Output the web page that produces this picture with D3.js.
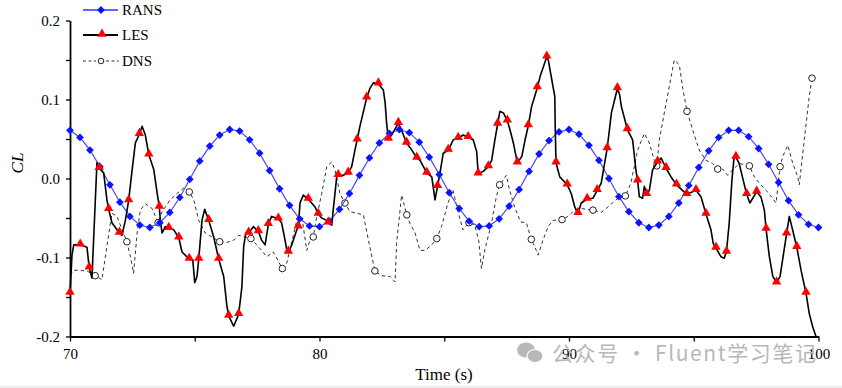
<!DOCTYPE html>
<html>
<head>
<meta charset="utf-8">
<script src="https://cdn.jsdelivr.net/npm/d3@7"></script>
<style>
  html, body { margin: 0; padding: 0; background: #fff; }
  svg { display: block; }
</style>
</head>
<body>
<svg id="chart" width="842" height="388"></svg>
<script>
// ---------------- DATA ----------------
const xTicks = [70, 75, 80, 85, 90, 95, 100];
const xTickLabels = ["70", "", "80", "", "90", "", "100"];
const yTicks = [-0.2, -0.15, -0.1, -0.05, 0.0, 0.05, 0.1, 0.15, 0.2];
const yTickLabels = ["-0.2", "", "-0.1", "", "0.0", "", "0.1", "", "0.2"];
const seriesNames = ["RANS", "LES", "DNS"];

const ransTime = [70.0,70.4,70.8,71.2,71.6,72.0,72.4,72.8,73.2,73.6,74.0,74.4,74.8,75.2,75.6,76.0,76.4,76.8,77.2,77.6,
  78.0,78.4,78.8,79.2,79.6,80.0,80.4,80.8,81.2,81.6,82.0,82.4,82.8,83.2,83.6,84.0,84.4,84.8,85.2,85.6,
  86.0,86.4,86.8,87.2,87.6,88.0,88.4,88.8,89.2,89.6,90.0,90.4,90.8,91.2,91.6,92.0,92.4,92.8,93.2,93.6,
  94.0,94.4,94.8,95.2,95.6,96.0,96.4,96.8,97.2,97.6,98.0,98.4,98.8,99.2,99.6,100.0];
const ransCL = [0.061,0.052,0.036,0.015,-0.008,-0.030,-0.048,-0.059,-0.062,-0.056,
  -0.043,-0.024,-0.001,0.022,0.041,0.055,0.062,0.060,0.049,0.032,
  0.010,-0.013,-0.034,-0.051,-0.060,-0.061,-0.054,-0.039,-0.019,0.004,
  0.026,0.045,0.057,0.062,0.058,0.046,0.027,0.005,-0.018,-0.038,
  -0.054,-0.061,-0.060,-0.051,-0.035,-0.014,0.009,0.031,0.048,0.059,
  0.062,0.056,0.042,0.023,0.000,-0.023,-0.042,-0.056,-0.062,-0.059,
  -0.048,-0.031,-0.009,0.014,0.035,0.052,0.061,0.061,0.053,0.038,
  0.018,-0.005,-0.028,-0.046,-0.058,-0.062];

const lesTime = [70.00,70.08,70.15,70.41,70.68,70.77,70.88,71.01,71.08,71.17,71.35,71.48,71.55,71.68,71.98,72.08,72.22,72.35,72.49,72.62,
  72.78,72.89,73.02,73.16,73.36,73.49,73.58,73.62,73.69,73.82,73.96,74.16,74.36,74.49,74.78,74.92,75.00,75.09,75.16,75.29,
  75.40,75.56,75.76,75.96,76.16,76.29,76.36,76.56,76.76,76.89,76.96,77.05,77.16,77.35,77.55,77.68,77.82,77.95,78.08,78.35,
  78.48,78.62,78.69,78.75,78.89,79.09,79.15,79.22,79.35,79.55,79.82,79.95,80.09,80.29,80.35,80.49,80.55,80.69,80.75,80.95,
  81.15,81.29,81.42,81.51,81.62,81.89,82.02,82.16,82.36,82.56,82.63,82.69,82.76,82.89,83.16,83.29,83.49,83.70,83.90,84.03,
  84.30,84.50,84.63,84.73,84.83,84.96,85.16,85.36,85.56,85.76,85.96,86.16,86.30,86.36,86.56,86.77,86.90,87.03,87.14,87.23,
  87.37,87.53,87.64,87.77,87.91,87.93,88.11,88.24,88.37,88.50,88.73,88.84,89.11,89.17,89.31,89.43,89.45,89.48,89.63,89.93,
  90.09,90.23,90.36,90.49,90.73,90.96,91.13,91.29,91.53,91.70,91.94,92.03,92.10,92.34,92.55,92.68,92.75,92.82,92.95,93.02,
  93.11,93.22,93.35,93.55,93.69,93.89,94.09,94.31,94.72,95.09,95.29,95.49,95.69,95.78,95.89,96.09,96.22,96.31,96.42,96.53,
  96.62,96.69,96.82,96.95,97.12,97.25,97.52,97.69,97.83,97.90,98.03,98.17,98.32,98.46,98.72,98.83,99.13,99.30,99.50,99.63,
  99.77,99.90];
const lesCL = [-0.145,-0.097,-0.084,-0.084,-0.087,-0.113,-0.126,-0.031,0.020,0.013,0.007,-0.027,-0.039,-0.056,-0.069,-0.072,-0.053,-0.028,0.011,0.045,
  0.056,0.066,0.055,0.030,0.011,-0.018,-0.036,-0.053,-0.069,-0.061,-0.063,-0.065,-0.075,-0.093,-0.102,-0.103,-0.132,-0.124,-0.102,-0.053,
  -0.039,-0.053,-0.074,-0.102,-0.124,-0.162,-0.174,-0.187,-0.172,-0.137,-0.086,-0.069,-0.069,-0.061,-0.067,-0.078,-0.084,-0.058,-0.048,-0.051,
  -0.056,-0.078,-0.091,-0.093,-0.084,-0.065,-0.061,-0.031,-0.021,-0.026,-0.036,-0.045,-0.050,-0.053,-0.056,-0.059,-0.040,0.002,0.004,0.004,
  0.007,0.015,0.036,0.049,0.066,0.102,0.114,0.121,0.120,0.112,0.096,0.070,0.050,0.055,0.070,0.061,0.045,0.036,0.026,0.023,
  0.007,0.002,-0.027,-0.010,0.007,0.032,0.036,0.049,0.051,0.055,0.052,0.049,0.034,0.006,0.009,0.015,0.023,0.049,0.069,0.085,
  0.083,0.073,0.061,0.045,0.023,0.020,0.028,0.049,0.067,0.091,0.115,0.129,0.154,0.150,0.125,0.104,0.061,0.020,0.002,-0.008,
  -0.019,-0.036,-0.044,-0.031,-0.026,-0.025,-0.015,-0.006,0.038,0.083,0.114,0.106,0.091,0.062,0.049,0.011,-0.003,-0.023,-0.025,-0.010,
  -0.020,-0.015,0.011,0.021,0.026,0.013,0.002,-0.008,-0.020,-0.015,-0.023,-0.045,-0.065,-0.082,-0.088,-0.099,-0.101,-0.093,-0.057,-0.002,
  0.028,0.027,0.019,0.002,-0.020,-0.031,-0.017,-0.023,-0.040,-0.064,-0.099,-0.124,-0.132,-0.124,-0.070,-0.048,-0.087,-0.116,-0.145,-0.171,
  -0.188,-0.200];
const lesMark = [1,0,0,1,0,1,0,0,0,1,0,0,1,0,1,0,0,1,0,0,
  1,0,0,1,0,0,1,0,0,0,1,0,1,0,1,0,0,0,1,0,
  0,1,0,1,0,0,1,0,1,0,0,0,1,0,1,0,0,1,0,1,
  0,0,0,1,0,0,1,0,0,1,0,1,0,0,1,0,0,0,1,0,
  1,0,0,1,0,1,0,0,1,0,0,0,1,0,1,0,1,0,1,0,
  1,0,0,1,0,0,1,0,1,0,1,0,0,1,0,1,0,0,1,0,
  0,1,0,0,0,1,0,0,1,0,1,0,1,0,0,0,0,1,0,1,
  0,0,1,0,1,0,1,0,1,0,1,0,0,1,0,0,1,0,0,0,
  1,0,0,1,0,1,0,1,1,1,0,1,0,0,1,0,0,1,0,0,
  0,1,0,0,1,0,1,0,0,1,0,0,1,0,1,0,1,0,1,0,
  0,0];

const dnsTime = [70.00,70.15,70.68,71.01,71.28,71.48,71.68,71.88,72.28,72.42,72.55,72.69,72.82,73.02,73.29,73.53,73.69,74.02,74.29,74.56,
  74.78,74.96,75.16,75.42,76.00,76.29,76.56,76.76,77.25,77.68,77.88,78.15,78.51,78.69,78.89,79.09,79.29,79.49,79.62,79.75,
  79.89,80.09,80.29,80.49,80.62,80.82,81.02,81.22,81.76,81.96,82.22,82.49,82.83,83.03,83.09,83.29,83.50,83.63,83.83,84.03,
  84.23,84.50,84.70,84.89,85.15,85.35,85.55,85.75,85.99,86.22,86.38,86.49,86.62,86.89,87.09,87.22,87.49,87.62,87.82,88.06,
  88.29,88.49,88.69,88.76,88.96,89.16,89.36,89.72,89.96,90.23,90.49,90.96,91.29,91.56,91.96,92.26,92.48,92.75,93.02,93.22,
  93.42,93.52,93.62,93.89,94.22,94.42,94.56,94.73,94.96,95.22,95.49,95.76,95.96,96.16,96.36,96.56,96.83,97.23,97.43,97.63,
  97.90,98.16,98.30,98.46,98.57,98.77,98.97,99.17,99.23,99.43,99.63,99.74,99.83];
const dnsCL = [-0.122,-0.116,-0.117,-0.123,-0.128,-0.086,-0.044,-0.048,-0.080,-0.099,-0.120,-0.069,-0.040,-0.032,-0.038,-0.056,-0.042,-0.027,-0.019,-0.012,
  -0.017,-0.027,-0.053,-0.069,-0.080,-0.081,-0.078,-0.072,-0.076,-0.091,-0.099,-0.093,-0.114,-0.107,-0.080,-0.053,-0.048,-0.091,-0.078,-0.074,
  -0.048,-0.019,0.015,0.021,0.011,-0.019,-0.031,-0.042,-0.046,-0.078,-0.117,-0.123,-0.124,-0.131,-0.082,-0.021,-0.046,-0.057,-0.069,-0.091,
  -0.091,-0.084,-0.076,-0.061,-0.031,-0.015,-0.042,-0.065,-0.056,-0.059,-0.078,-0.114,-0.091,-0.057,-0.023,-0.008,0.004,-0.015,-0.036,-0.055,
  -0.056,-0.077,-0.091,-0.097,-0.078,-0.061,-0.053,-0.052,-0.048,-0.040,-0.038,-0.040,-0.043,-0.036,-0.025,-0.022,-0.006,0.036,0.057,0.045,
  0.023,0.016,0.049,0.095,0.150,0.144,0.114,0.085,0.061,0.036,0.023,0.019,0.012,0.012,0.004,0.011,0.019,0.016,0.002,-0.006,
  -0.015,-0.025,-0.031,0.015,0.028,0.042,0.019,0.002,-0.008,0.049,0.104,0.127,0.129];
const dnsMark = [0,0,0,1,0,0,0,0,1,0,0,0,0,0,0,1,0,0,0,0,
  1,0,0,0,1,0,0,0,1,0,0,0,1,0,0,0,0,0,0,1,
  0,0,0,0,0,0,1,0,0,0,1,0,0,0,0,0,1,0,0,0,
  0,0,1,0,0,0,0,0,1,0,0,0,0,0,0,1,0,0,0,0,
  0,1,0,0,0,0,0,1,0,0,0,1,0,0,0,1,0,0,0,0,
  0,1,0,0,0,0,0,1,0,0,0,0,1,0,0,0,0,1,0,0,
  0,0,0,1,0,0,0,0,0,0,0,1,0];

// ---------------- CHART ----------------
const svg = d3.select("#chart");
const serif = "'Liberation Serif', 'Times New Roman', serif";

const x = d3.scaleLinear().domain([70, 100]).range([70, 818.5]);
const y = d3.scaleLinear().domain([-0.2, 0.2]).range([336.5, 20.5]);

// bottom light strip
svg.append("rect").attr("x", 0).attr("y", 385.5).attr("width", 842).attr("height", 2.5).attr("fill", "#eeeeee");

// axes
const xAxis = d3.axisBottom(x).tickValues(xTicks)
  .tickFormat((d, i) => xTickLabels[i]).tickSizeInner(5).tickSizeOuter(0).tickPadding(7);
const gx = svg.append("g").attr("transform", `translate(0,${y(-0.2)})`).call(xAxis);
gx.select(".domain").attr("stroke", "#000").attr("stroke-width", 1.8);
gx.selectAll(".tick line").attr("stroke", "#000").attr("stroke-width", 1.3);
gx.selectAll(".tick text").attr("font-family", serif).attr("font-size", 15).attr("fill", "#000");

const yAxis = d3.axisLeft(y).tickValues(yTicks)
  .tickFormat((d, i) => yTickLabels[i]).tickSizeInner(4).tickSizeOuter(0).tickPadding(6);
const gy = svg.append("g").attr("transform", `translate(${x(70)},0)`).call(yAxis);
gy.select(".domain").attr("stroke", "#000").attr("stroke-width", 1.8);
gy.selectAll(".tick line").attr("stroke", "#000").attr("stroke-width", 1.3);
gy.selectAll(".tick text").attr("font-family", serif).attr("font-size", 15).attr("fill", "#000");

// axis titles
svg.append("text").attr("x", 444).attr("y", 380).attr("text-anchor", "middle")
  .attr("font-family", serif).attr("font-size", 17).attr("fill", "#000").text("Time (s)");
svg.append("text").attr("transform", "translate(23,163) rotate(-90)").attr("text-anchor", "middle")
  .attr("font-family", serif).attr("font-style", "italic").attr("font-size", 17).attr("fill", "#000").text("CL");

// symbols
const diamondType = {
  draw(ctx, size) {
    const r = Math.sqrt(size) * 0.65;
    ctx.moveTo(0, -r); ctx.lineTo(r, 0); ctx.lineTo(0, r); ctx.lineTo(-r, 0); ctx.closePath();
  }
};
const diamondPath = d3.symbol().type(diamondType).size(36)();
const trianglePath = d3.symbol().type(d3.symbolTriangle).size(38)();

const ransData = ransTime.map((t, i) => ({ t, v: ransCL[i] }));
const lesData = lesTime.map((t, i) => ({ t, v: lesCL[i], m: lesMark[i] }));
const dnsData = dnsTime.map((t, i) => ({ t, v: dnsCL[i], m: dnsMark[i] }));

const line = d3.line().x(d => x(d.t)).y(d => y(d.v));

const plot = svg.append("g");

// DNS
plot.append("path").datum(dnsData).attr("d", line).attr("fill", "none")
  .attr("stroke", "#333").attr("stroke-width", 1).attr("stroke-dasharray", "3.5,3");
plot.append("g").selectAll("circle").data(dnsData.filter(d => d.m)).join("circle")
  .attr("cx", d => x(d.t)).attr("cy", d => y(d.v)).attr("r", 3.3)
  .attr("fill", "#fff").attr("stroke", "#222").attr("stroke-width", 1);

// RANS line
plot.append("path").datum(ransData).attr("d", line).attr("fill", "none")
  .attr("stroke", "#4a4af0").attr("stroke-width", 1.2);

// LES line
plot.append("path").datum(lesData).attr("d", line).attr("fill", "none")
  .attr("stroke", "#000").attr("stroke-width", 1.6).attr("stroke-linejoin", "round");

// RANS markers
plot.append("g").selectAll("path").data(ransData).join("path")
  .attr("d", diamondPath).attr("transform", d => `translate(${x(d.t)},${y(d.v)})`)
  .attr("fill", "#0a14ff");

// LES markers
plot.append("g").selectAll("path").data(lesData.filter(d => d.m)).join("path")
  .attr("d", trianglePath).attr("transform", d => `translate(${x(d.t)},${y(d.v) - 1})`)
  .attr("fill", "#ff0000");

// legend
const legY = [10, 35, 61];
const leg = svg.append("g");
// RANS
leg.append("line").attr("x1", 83).attr("x2", 118).attr("y1", legY[0]).attr("y2", legY[0])
  .attr("stroke", "#6464ff").attr("stroke-width", 2);
leg.append("path").attr("d", diamondPath).attr("transform", `translate(101,${legY[0]})`).attr("fill", "#0a14ff");
// LES
leg.append("line").attr("x1", 83).attr("x2", 118).attr("y1", legY[1]).attr("y2", legY[1])
  .attr("stroke", "#000").attr("stroke-width", 2);
leg.append("path").attr("d", trianglePath).attr("transform", `translate(102,${legY[1] - 1})`).attr("fill", "#ff0000");
// DNS
leg.append("line").attr("x1", 83).attr("x2", 96).attr("y1", legY[2]).attr("y2", legY[2])
  .attr("stroke", "#333").attr("stroke-width", 1).attr("stroke-dasharray", "3,2.5");
leg.append("line").attr("x1", 106).attr("x2", 119).attr("y1", legY[2]).attr("y2", legY[2])
  .attr("stroke", "#333").attr("stroke-width", 1).attr("stroke-dasharray", "3,2.5");
leg.append("circle").attr("cx", 101).attr("cy", legY[2]).attr("r", 2.8)
  .attr("fill", "#fff").attr("stroke", "#222").attr("stroke-width", 1);
leg.selectAll("text").data(seriesNames).join("text")
  .attr("x", 122).attr("y", (d, i) => legY[i]).attr("dy", "0.35em")
  .attr("font-family", serif).attr("font-size", 15).attr("fill", "#000").text(d => d);

// watermark
const wm = svg.append("g").attr("fill", "#b8b8b8");
wm.append("ellipse").attr("cx", 526).attr("cy", 350).attr("rx", 9).attr("ry", 7.5);
wm.append("ellipse").attr("cx", 535).attr("cy", 356).attr("rx", 8).attr("ry", 6.5).attr("stroke", "#fff").attr("stroke-width", 1.2);
wm.append("text").attr("x", 552).attr("y", 361).attr("font-family", "'Noto Sans CJK SC', 'Noto Sans', sans-serif")
  .attr("font-size", 21).attr("textLength", 264).attr("lengthAdjust", "spacing")
  .text("公众号 · Fluent学习笔记");
</script>
</body>
</html>
